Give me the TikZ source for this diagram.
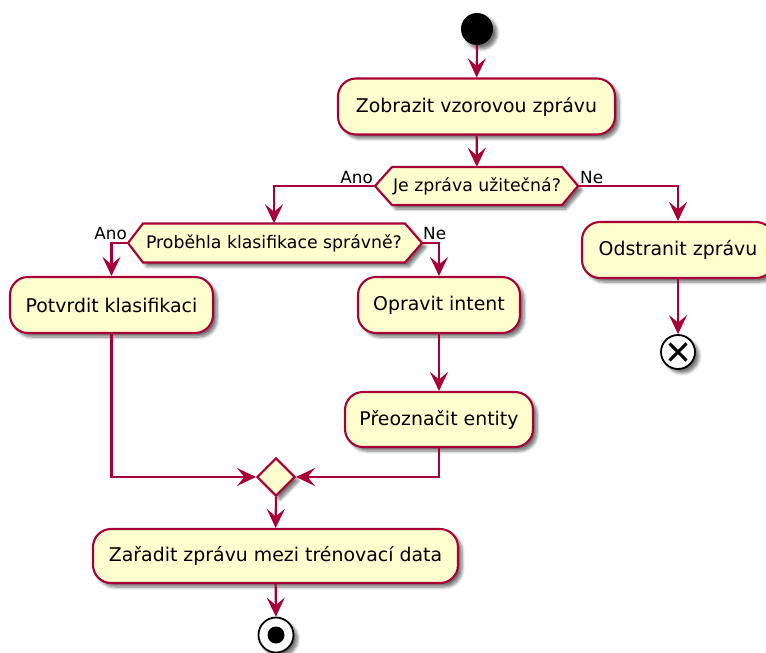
\documentclass[tikz,border=0pt]{standalone}
\usepackage{fontspec}
\setmainfont{DejaVu Sans}
\usetikzlibrary{arrows.meta,shapes.geometric,shadows.blur,calc}

\definecolor{pborder}{HTML}{A80036}
\definecolor{pfill}{HTML}{FEFECE}

\tikzset{
  softshadow/.style={blur shadow={shadow xshift=4pt, shadow yshift=-4pt,
      shadow blur steps=6, shadow blur radius=3pt, shadow opacity=55}},
  action/.style={draw=pborder, fill=pfill, line width=2.1pt,
      rounded corners=18pt, minimum height=56pt, inner xsep=0pt,
      font=\fontsize{18.9}{22}\selectfont, softshadow},
  hexlabel/.style={inner sep=0pt, font=\fontsize{17.3}{20}\selectfont},
  decision/.style={draw=pborder, fill=pfill, line width=2.1pt, softshadow},
  merge/.style={diamond, draw=pborder, fill=pfill, line width=2.1pt,
      minimum width=38pt, minimum height=38pt, inner sep=0pt, softshadow},
  guard/.style={inner sep=0pt, font=\fontsize{16.8}{20}\selectfont},
  flow/.style={draw=pborder, line width=2.1pt,
      -{Stealth[length=19pt,width=18pt,inset=7.5pt]}},
}

\begin{document}
\begin{tikzpicture}[x=1pt,y=-1pt]
\useasboundingbox (0,0) rectangle (766,653);

% start and end markers
\node[circle, fill=black, minimum size=32pt, inner sep=0pt, softshadow] (start) at (477,29) {};
\node[circle, draw=black, fill=white, line width=1.8pt, minimum size=35pt, inner sep=0pt, softshadow] (stop) at (276,635) {};
\fill[black] (stop.center) circle (8.5pt);
\node[circle, draw=black, fill=white, line width=1.8pt, minimum size=34pt, inner sep=0pt, softshadow] (kill) at (678,352) {};
\draw[black, line width=3pt] (kill.center) ++(-8.5pt,-8.5pt) -- ++(17pt,17pt);
\draw[black, line width=3pt] (kill.center) ++(-8.5pt,8.5pt) -- ++(17pt,-17pt);

% actions
\node[action, minimum width=277pt] (show) at (476.5,106.5) {Zobrazit vzorovou zprávu};
\node[action, minimum width=192pt] (remove) at (678,250) {Odstranit zprávu};
\node[action, minimum width=203pt] (confirm) at (111.5,305) {Potvrdit klasifikaci};
\node[action, minimum width=162pt] (fixintent) at (439,305) {Opravit intent};
\node[action, minimum width=188pt, minimum height=55pt] (relabel) at (439,419.5) {Přeoznačit entity};
\node[action, minimum width=365pt, minimum height=54pt] (store) at (275.5,556) {Zařadit zprávu mezi trénovací data};

% decisions: hexagon outlines first, then their labels on top
\coordinate (usefulC) at (477,186);
\coordinate (correctC) at (274,243);
\path[decision] ($(usefulC)+(-85,-19)$) -- ($(usefulC)+(85,-19)$) -- ($(usefulC)+(101,0)$)
   -- ($(usefulC)+(85,19)$) -- ($(usefulC)+(-85,19)$) -- ($(usefulC)+(-102,0)$) -- cycle;
\path[decision] ($(correctC)+(-131,-19.5)$) -- ($(correctC)+(131,-19.5)$) -- ($(correctC)+(148,0)$)
   -- ($(correctC)+(131,19.5)$) -- ($(correctC)+(-131,19.5)$) -- ($(correctC)+(-146,0)$) -- cycle;
\node[hexlabel, minimum width=170pt, minimum height=38pt] (useful) at (usefulC) {Je zpráva užitečná?};
\node[hexlabel, minimum width=262pt, minimum height=39pt] (correct) at (correctC) {Proběhla klasifikace správně?};
\coordinate (usefulW) at ($(usefulC)+(-102,0)$);
\coordinate (usefulE) at ($(usefulC)+(101,0)$);
\coordinate (correctW) at ($(correctC)+(-146,0)$);
\coordinate (correctE) at ($(correctC)+(148,0)$);
\node[merge] (join) at (276,477) {};

% guards
\node[guard, anchor=base east] (g1) at ($(usefulW)+(-2,-3)$) {Ano};
\node[guard, anchor=base west] (g2) at ($(usefulE)+(2,-3)$) {Ne};
\node[guard, anchor=base east] (g3) at ($(correctW)+(-1,-4)$) {Ano};
\node[guard, anchor=base west] (g4) at ($(correctE)+(1,-4)$) {Ne};

% connectors
\draw[flow] (start) -- (show);
\draw[flow] (show) -- (useful);
\draw[flow] (usefulW) -| (correct.north);
\draw[flow] (usefulE) -| (remove.north);
\draw[flow] (remove) -- (kill);
\draw[flow] (correctW) -| (confirm.north);
\draw[flow] (correctE) -| (fixintent.north);
\draw[flow] (fixintent) -- (relabel);
\draw[flow] (confirm.south) |- (join.west);
\draw[flow] (relabel.south) |- (join.east);
\draw[flow] (join) -- (store);
\draw[flow] (store) -- (stop);
\end{tikzpicture}
\end{document}
